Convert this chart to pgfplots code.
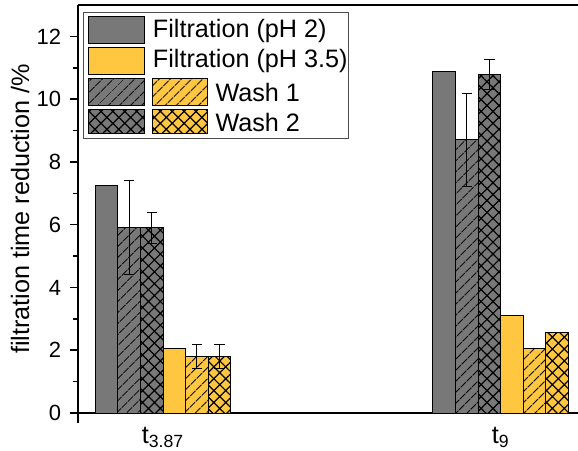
\documentclass[border=0pt]{standalone}
\usepackage{fontspec}
\setmainfont{Liberation Sans}
\usepackage{pgfplots}
\pgfplotsset{compat=1.18}
\usetikzlibrary{patterns.meta,calc}

\definecolor{barGray}{RGB}{120,120,120}
\definecolor{barYellow}{RGB}{255,199,64}

\tikzset{
  lineshatch/.style={postaction={pattern={Lines[angle=45,distance=4pt,line width=0.6pt]}}},
  crosshatch/.style={postaction={pattern={Hatch[angle=45,distance=4.2pt,line width=0.6pt]}}},
}

\begin{document}
\fontsize{12.6pt}{14pt}\selectfont
\begin{tikzpicture}
\begin{axis}[
  scale only axis, width=250pt, height=204pt,
  xmin=0.748, xmax=2.229, ymin=0, ymax=13,
  axis x line*=box, axis y line*=left,
  axis line style={line width=0.8pt},
  ybar=0pt, bar width=11.3pt,
  xtick={1,2}, xticklabels={t\textsubscript{3.87}, t\textsubscript{9}},
  xtick pos=left, xtick style={draw=none},
  xticklabel style={font=\fontsize{12.6pt}{14pt}\selectfont, yshift=1.5pt},
  ytick={0,2,...,12}, minor y tick num=1,
  yticklabel style={font=\fontsize{11pt}{13pt}\selectfont},
  tick align=outside, major tick length=4pt, minor tick length=2.5pt,
  ytick style={line width=0.8pt, black},
  ylabel={filtration time reduction /\%},
  every axis y label/.style={at={(axis description cs:0,0.5)}, xshift=-29pt, rotate=90, anchor=center},
  /pgf/number format/assume math mode=true,
  every axis plot/.append style={draw=black, line width=0.5pt},
  error bars/y dir=both, error bars/y explicit,
  error bars/error bar style={line width=0.5pt, black, solid},
  error bars/error mark options={rotate=90, mark size=2.6pt, line width=0.5pt, black},
]
% gray series (pH 2)
\addplot[fill=barGray] coordinates {(1,7.25) (2,10.88)};
\addplot[fill=barGray, lineshatch] coordinates {(1,5.9) +- (0,1.5) (2,8.7) +- (0,1.48)};
\addplot[fill=barGray, crosshatch] coordinates {(1,5.9) +- (0,0.5) (2,10.78) +- (0,0.48)};
% yellow series (pH 3.5)
\addplot[fill=barYellow] coordinates {(1,2.05) (2,3.1)};
\addplot[fill=barYellow, lineshatch] coordinates {(1,1.8) +- (0,0.37) (2,2.05) +- (0,0)};
\addplot[fill=barYellow, crosshatch] coordinates {(1,1.8) +- (0,0.37) (2,2.58) +- (0,0)};
\end{axis}
\draw[line width=0.8pt] (current axis.south west) -- ++(0,-5pt);
% legend, in reference pixels measured from the axis' top left corner
\begin{scope}[shift={(current axis.north west)}, x=0.5pt, y=-0.5pt, line width=0.5pt]
  \draw[draw=black!70, fill=white] (6,7.5) rectangle (270,134);
  \draw[fill=barGray] (10.5,12) rectangle (66,38.5);
  \draw[fill=barYellow] (10.5,43) rectangle (66,69.5);
  \draw[fill=barGray, lineshatch] (10.5,74) rectangle (66,100.5);
  \draw[fill=barYellow, lineshatch] (74,74) rectangle (129.5,100.5);
  \draw[fill=barGray, crosshatch] (10.5,105) rectangle (66,129);
  \draw[fill=barYellow, crosshatch] (74,105) rectangle (129.5,129);
  \node[anchor=west, inner sep=0pt] at (74.5,25.5) {Filtration (pH 2)};
  \node[anchor=west, inner sep=0pt] at (74.5,56) {Filtration (pH 3.5)};
  \node[anchor=west, inner sep=0pt] at (137,87) {Wash 1};
  \node[anchor=west, inner sep=0pt] at (137,117.5) {Wash 2};
\end{scope}
\pgfresetboundingbox
\path ($(current axis.south west)+(-39pt,-18.5pt)$) rectangle ($(current axis.north east)+(0,2.5pt)$);
\end{tikzpicture}
\end{document}
